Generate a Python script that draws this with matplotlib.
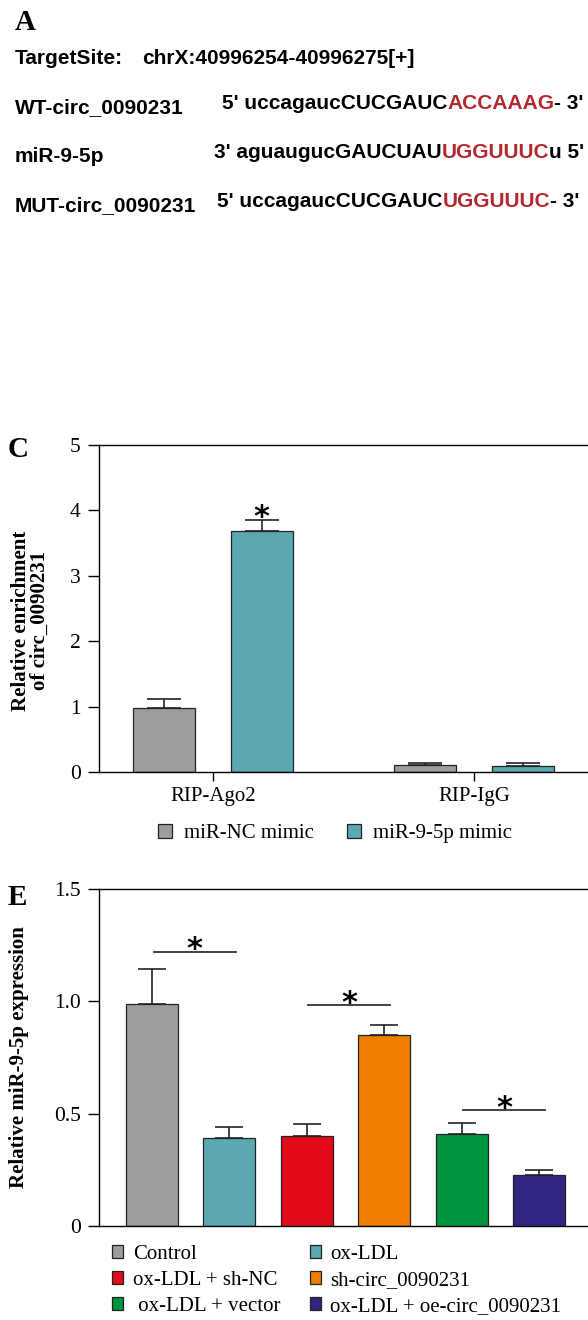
import numpy as np
import matplotlib
matplotlib.use('Agg')
import matplotlib.pyplot as plt
from matplotlib.patches import Patch

plt.rcParams['font.family'] = ['Liberation Serif', 'DejaVu Serif']

# ---- panel A: target site text
site_label = 'TargetSite:'
site_text = 'chrX:40996254-40996275[+]'
seq_names = ['WT-circ_0090231', 'miR-9-5p', 'MUT-circ_0090231']
seq_parts = [["5' uccagaucCUCGAUC", 'ACCAAAG', "- 3'"],
             ["3' aguaugucGAUCUAU", 'UGGUUUC', "u 5'"],
             ["5' uccagaucCUCGAUC", 'UGGUUUC', "- 3'"]]

# ---- panel C: RIP assay
rip_groups = ['RIP-Ago2', 'RIP-IgG']
rip_series = ['miR-NC mimic', 'miR-9-5p mimic']
nc_mean = [0.98, 0.11]
nc_err = [0.13, 0.035]
mir_mean = [3.68, 0.09]
mir_err = [0.18, 0.05]
rip_ticks = [0, 1, 2, 3, 4, 5]

# ---- panel E: miR-9-5p expression
groups = ['Control', 'ox-LDL', 'ox-LDL + sh-NC', 'sh-circ_0090231',
          ' ox-LDL + vector', 'ox-LDL + oe-circ_0090231']
expr = [0.99, 0.39, 0.40, 0.85, 0.41, 0.225]
expr_err = [0.155, 0.05, 0.054, 0.044, 0.049, 0.024]
sig_pairs = [(0, 1, 1.22), (2, 3, 0.982), (4, 5, 0.515)]
expr_ticks = [0, 0.5, 1.0, 1.5]
expr_ticklabels = ['0', '0.5', '1.0', '1.5']

colors_e = ['#9d9d9d', '#5ba8b3', '#e30b17', '#ef7d00', '#009640', '#312782']
gray, teal = '#9d9d9d', '#5ba8b3'
red_txt = '#b3282d'
edge = '#222222'

W, H = 588, 1320
fig = plt.figure(figsize=(W / 100, H / 100), dpi=100)


def px(x, y):
    return x / W, 1 - y / H


# panel A ---------------------------------------------------------------
axa = fig.add_axes([0, 0, 1, 1])
axa.set_axis_off()
axa.patch.set_alpha(0)
sans = dict(family='Liberation Sans', fontweight='bold', fontsize=15)

fig.text(*px(15, 30), 'A', fontsize=21, fontweight='bold', va='baseline')
axa.text(*px(15, 64), site_label, transform=fig.transFigure, va='baseline', **sans)
axa.text(*px(142, 64), site_text, transform=fig.transFigure, va='baseline', **sans)
seq_x = [222, 214, 217]
for i, (name, parts) in enumerate(zip(seq_names, seq_parts)):
    y = 113 + 49 * i
    axa.text(*px(15, y), name, transform=fig.transFigure, va='baseline', **sans)
    t = axa.text(*px(seq_x[i], y), parts[0], transform=fig.transFigure,
                 va='bottom', **sans)
    t = axa.annotate(parts[1], xy=(1, 0), xycoords=t, va='bottom',
                     color=red_txt, **sans)
    axa.annotate(parts[2], xy=(1, 0), xycoords=t, va='bottom', **sans)


def star(ax, x, y, fs=22):
    ax.annotate('*', xy=(x, y), xytext=(0, -0.56 * fs), textcoords='offset points',
                ha='center', va='baseline', fontsize=fs, fontweight='bold',
                family='DejaVu Sans')


def style_axes(ax):
    ax.spines['right'].set_visible(False)
    for s in ['left', 'top', 'bottom']:
        ax.spines[s].set_linewidth(1.0)
    ax.tick_params(axis='y', direction='out', length=8, width=1.0, pad=5,
                   labelsize=15.5)


# panel C ---------------------------------------------------------------
axc = fig.add_axes([98.7 / W, 1 - 772 / H, 1 - 98.7 / W, (772 - 445) / H])
x = np.arange(len(rip_groups))
off, w = 0.187, 0.2375
ekw = dict(elinewidth=1.2, capthick=1.2, ecolor=edge)
axc.bar(x - off, nc_mean, w, yerr=[[0] * 2, nc_err], color=gray, edgecolor=edge,
        linewidth=0.9, capsize=12, error_kw=ekw)
axc.bar(x + off, mir_mean, w, yerr=[[0] * 2, mir_err], color=teal, edgecolor=edge,
        linewidth=0.9, capsize=12, error_kw=ekw)
star(axc, 0 + off, 4.02)
axc.set_xlim(-0.438, 1.437)
axc.set_ylim(0, 5)
axc.set_yticks(rip_ticks)
axc.set_xticks(x)
axc.set_xticklabels(rip_groups)
style_axes(axc)
axc.tick_params(axis='x', direction='out', length=6.5, width=1.0, pad=4,
                labelsize=15)
axc.set_ylabel('Relative enrichment\nof circ_0090231', fontsize=15,
               fontweight='bold', linespacing=0.95)
axc.yaxis.set_label_coords((50 - 98.7) / (W - 98.7), 0.462)
handles = [Patch(facecolor=gray, edgecolor=edge, linewidth=0.9, label=rip_series[0]),
           Patch(facecolor=teal, edgecolor=edge, linewidth=0.9, label=rip_series[1])]
axc.legend(handles=handles, loc='upper left', bbox_to_anchor=px(158, 824),
           bbox_transform=fig.transFigure, ncol=2, frameon=False, borderpad=0,
           borderaxespad=0, handlelength=0.65, handleheight=0.65,
           handletextpad=0.6, columnspacing=1.6, fontsize=15)
fig.text(*px(8, 457), 'C', fontsize=21, fontweight='bold', va='baseline')

# panel E ---------------------------------------------------------------
axe = fig.add_axes([98.7 / W, 1 - 1226 / H, 1 - 98.7 / W, (1226 - 889) / H])
xe = np.arange(len(groups))
axe.bar(xe, expr, 0.672, yerr=[[0] * len(expr), expr_err], color=colors_e,
        edgecolor=edge, linewidth=0.9, capsize=10, error_kw=ekw)
for i, j, yl in sig_pairs:
    mid = (xe[i] + xe[j]) / 2 + 0.05
    axe.plot([mid - 0.53, mid + 0.53], [yl, yl], color='#333333', lw=1.3)
    star(axe, mid, yl + 0.048)
axe.set_xlim(-0.689, 5.633)
axe.set_ylim(0, 1.5)
axe.set_yticks(expr_ticks)
axe.set_yticklabels(expr_ticklabels)
axe.set_xticks([])
style_axes(axe)
axe.set_ylabel('Relative miR-9-5p expression', fontsize=15, fontweight='bold')
axe.yaxis.set_label_coords((29 - 98.7) / (W - 98.7), 0.5)
order = [0, 2, 4, 1, 3, 5]
handles = [Patch(facecolor=colors_e[k], edgecolor=edge, linewidth=0.9,
                 label=groups[k]) for k in order]
axe.legend(handles=handles, loc='upper left', bbox_to_anchor=px(112, 1245),
           bbox_transform=fig.transFigure, ncol=2, frameon=False, borderpad=0,
           borderaxespad=0, handlelength=0.55, handleheight=0.55,
           handletextpad=0.45, columnspacing=1.4, labelspacing=0.33,
           fontsize=15)
fig.text(*px(8, 905), 'E', fontsize=21, fontweight='bold', va='baseline')

fig.savefig('out.png', dpi=100)
